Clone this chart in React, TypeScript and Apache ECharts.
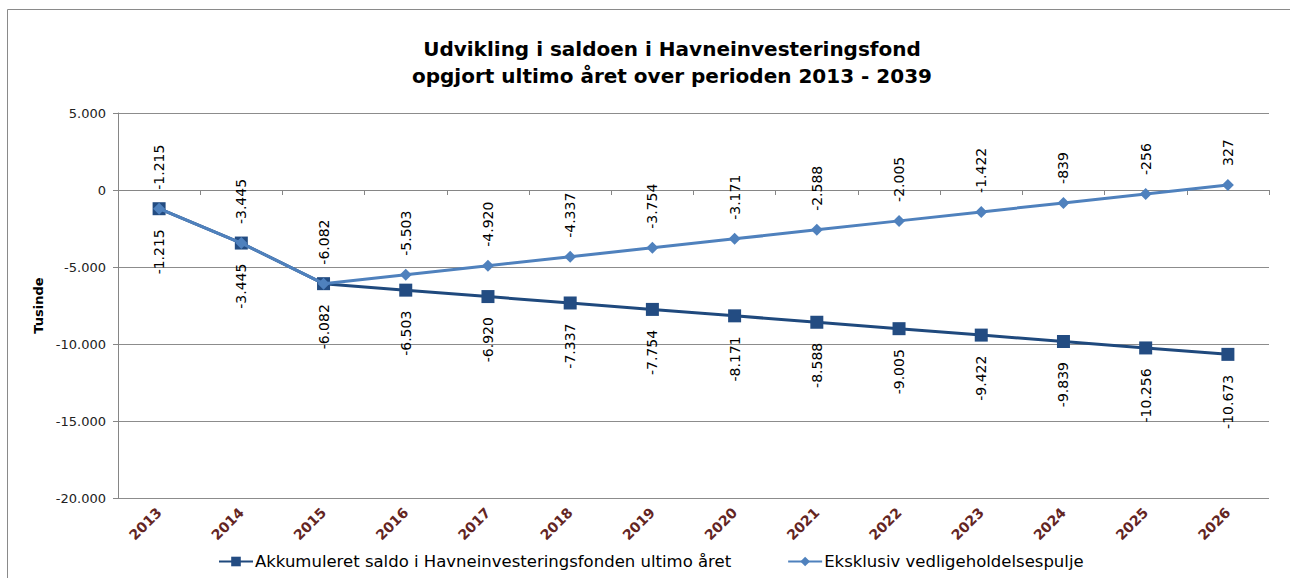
import React, { useEffect, useRef } from "react";
import * as echarts from "echarts";

const years = ["2013", "2014", "2015", "2016", "2017", "2018", "2019", "2020", "2021", "2022", "2023", "2024", "2025", "2026"];
const akkumuleret = [-1215, -3445, -6082, -6503, -6920, -7337, -7754, -8171, -8588, -9005, -9422, -9839, -10256, -10673];
const eksklusiv = [-1215, -3445, -6082, -5503, -4920, -4337, -3754, -3171, -2588, -2005, -1422, -839, -256, 327];
const seriesNames = ["Akkumuleret saldo i Havneinvesteringsfonden ultimo året", "Eksklusiv vedligeholdelsespulje"];
const titleText = "Udvikling i saldoen i Havneinvesteringsfond\nopgjort ultimo året over perioden 2013 - 2039";
const yName = "Tusinde";

function fmt(v: number): string {
  const neg = v < 0;
  const s = Math.abs(Math.round(v)).toString();
  const parts: string[] = [];
  for (let i = s.length; i > 0; i -= 3) parts.unshift(s.substring(Math.max(0, i - 3), i));
  return (neg ? "-" : "") + parts.join(".");
}

const FONT = "DejaVu Sans, Verdana, sans-serif";

export default function App() {
  const ref = useRef<HTMLDivElement>(null);
  useEffect(() => {
    if (!ref.current) return;
    const chart = echarts.init(ref.current, null, { renderer: "svg" });
    chart.setOption({
      animation: false,
      backgroundColor: "#ffffff",
      textStyle: { fontFamily: FONT },
      title: {
        text: titleText,
        left: 667,
        top: 30,
        textAlign: "center",
        textStyle: { fontFamily: FONT, fontSize: 20, fontWeight: "bold", color: "#000", lineHeight: 27 },
      },
      graphic: [
        {
          type: "rect",
          shape: { x: 7.5, y: 9.5, width: 1400, height: 700 },
          style: { fill: "none", stroke: "#8a8a8a", lineWidth: 1 },
          silent: true,
        },
      ],
      legend: {
        left: 213,
        top: 548,
        itemGap: 56,
        itemWidth: 34,
        itemHeight: 12,
        textStyle: { fontFamily: FONT, fontSize: 16.5, color: "#000", padding: [0, 0, 0, -3] },
        data: seriesNames,
      },
      grid: { left: 118, right: 21, top: 113, bottom: 80, containLabel: false },
      xAxis: {
        type: "category",
        data: years,
        boundaryGap: true,
        axisLine: { lineStyle: { color: "#868686", width: 1 } },
        axisTick: { show: true, alignWithLabel: false, length: 5, lineStyle: { color: "#868686" } },
        axisLabel: {
          rotate: 45,
          fontFamily: FONT,
          fontSize: 14,
          fontWeight: "bold",
          color: "#632523",
          margin: 12,
        },
        splitLine: { show: false },
      },
      yAxis: {
        type: "value",
        min: -20000,
        max: 5000,
        interval: 5000,
        name: yName,
        nameLocation: "middle",
        nameGap: 68,
        nameTextStyle: { fontFamily: FONT, fontSize: 13, fontWeight: "bold", color: "#000" },
        axisLine: { show: true, lineStyle: { color: "#868686" } },
        axisTick: { show: true, length: 5, lineStyle: { color: "#868686" } },
        axisLabel: {
          fontFamily: FONT,
          fontSize: 13,
          color: "#222",
          margin: 12,
          formatter: (v: number) => fmt(v),
        },
        splitLine: { show: true, lineStyle: { color: "#8c8c8c", width: 1 } },
      },
      series: [
        {
          name: seriesNames[0],
          type: "line",
          data: akkumuleret,
          symbol: "rect",
          symbolSize: 13,
          lineStyle: { color: "#1F497D", width: 3 },
          itemStyle: { color: "#234C82" },
          label: {
            show: true,
            position: "bottom",
            distance: 14,
            rotate: 90,
            align: "right",
            verticalAlign: "middle",
            fontFamily: FONT,
            fontSize: 14,
            color: "#000",
            formatter: (p: any) => fmt(p.value),
          },
          z: 2,
        },
        {
          name: seriesNames[1],
          type: "line",
          data: eksklusiv,
          symbol: "diamond",
          symbolSize: 12,
          lineStyle: { color: "#4F81BD", width: 3 },
          itemStyle: { color: "#4F81BD" },
          label: {
            show: true,
            position: "top",
            distance: 13,
            rotate: 90,
            align: "left",
            verticalAlign: "middle",
            fontFamily: FONT,
            fontSize: 14,
            color: "#000",
            formatter: (p: any) => fmt(p.value),
          },
          z: 3,
        },
      ],
    });
    return () => chart.dispose();
  }, []);
  return (
    <div
      ref={ref}
      style={{ position: "fixed", left: 0, top: 0, width: 1290, height: 578, background: "#fff" }}
    />
  );
}
